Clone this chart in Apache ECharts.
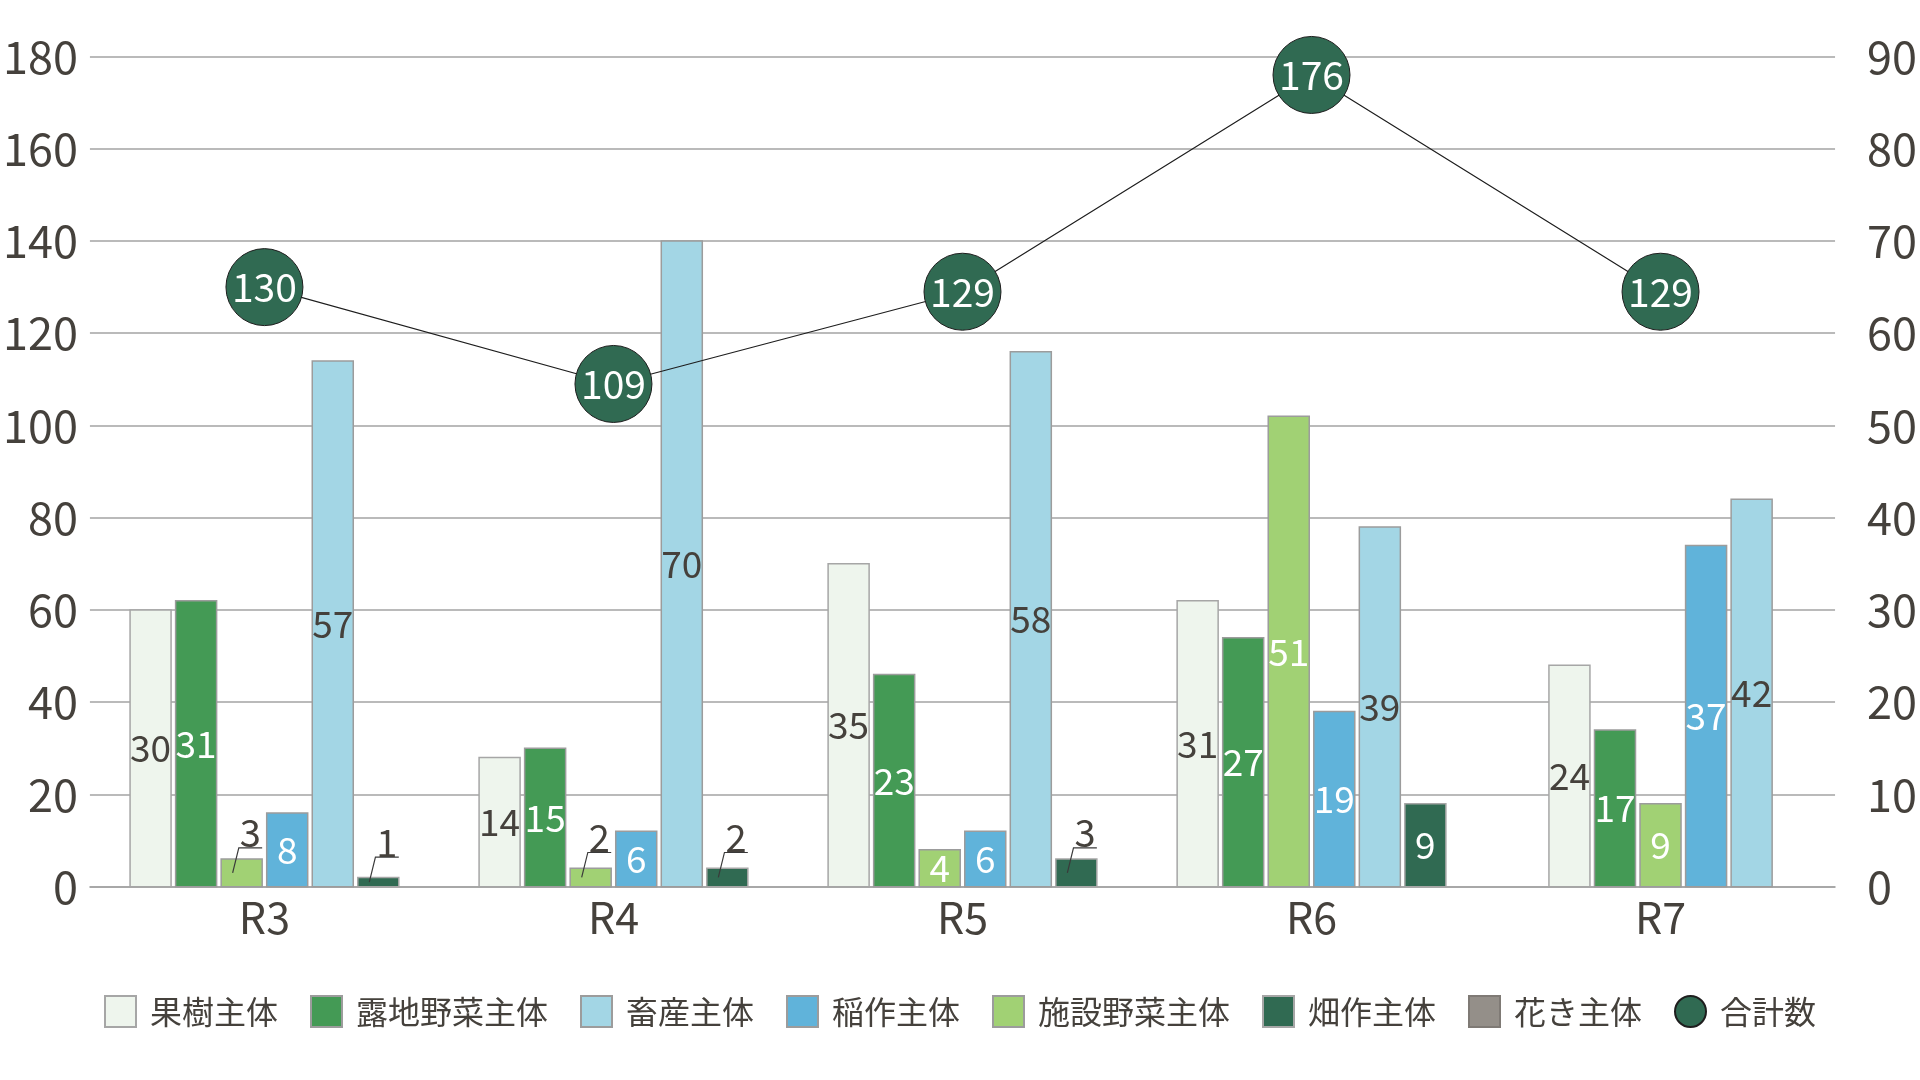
<!DOCTYPE html>
<html>
<head>
<meta charset="utf-8">
<style>
html,body{margin:0;padding:0;background:#ffffff;}
#chart{width:1920px;height:1080px;}
</style>
<script src="https://cdn.jsdelivr.net/npm/echarts@6/dist/echarts.min.js"></script>
</head>
<body>
<div id="chart"></div>
<script>
// ---- data ----
const categories = ['R3', 'R4', 'R5', 'R6', 'R7'];
const kaju = [30, 14, 35, 31, 24];        // 果樹主体
const roji = [31, 15, 23, 27, 17];        // 露地野菜主体
const shisetsu = [3, 2, 4, 51, 9];        // 施設野菜主体
const inasaku = [8, 6, 6, 19, 37];        // 稲作主体
const chikusan = [57, 70, 58, 39, 42];    // 畜産主体
const hatasaku = [1, 2, 3, 9, null];      // 畑作主体
const hanaki = [null, null, null, null, null]; // 花き主体
const total = [130, 109, 129, 176, 129];  // 合計数
const leftTicks = { min: 0, max: 180, interval: 20 };
const rightTicks = { min: 0, max: 90, interval: 10 };
const legendOrder = ['果樹主体', '露地野菜主体', '畜産主体', '稲作主体', '施設野菜主体', '畑作主体', '花き主体', '合計数'];

// ---- styles ----
const FONT = '"Noto Sans CJK JP", "Noto Sans", sans-serif';
const TEXT = '#45413c';
const GRID = '#a3a3a3';
const OUTSIDE_MAX = 3;

const barDefs = [
  { name: '果樹主体', data: kaju, color: '#eef5ed', border: '#a6a6a6', label: TEXT },
  { name: '露地野菜主体', data: roji, color: '#449a55', border: '#9c9c9c', label: '#ffffff' },
  { name: '施設野菜主体', data: shisetsu, color: '#a1d174', border: '#9c9c9c', label: '#ffffff' },
  { name: '稲作主体', data: inasaku, color: '#60b3da', border: '#9c9c9c', label: '#ffffff' },
  { name: '畜産主体', data: chikusan, color: '#a3d6e5', border: '#9c9c9c', label: TEXT },
  { name: '畑作主体', data: hatasaku, color: '#306a52', border: '#a6a6a6', label: '#ffffff' },
  { name: '花き主体', data: hanaki, color: '#948f89', border: '#7f7a75', label: '#ffffff' }
];

function makeBarSeries(def, si) {
  return {
    type: 'custom',
    name: def.name,
    yAxisIndex: 1,
    z: 2,
    itemStyle: { color: def.color, borderColor: def.border, borderWidth: 1.5 },
    encode: { x: 0, y: 1 },
    data: def.data.map((v, i) => [i, v]),
    renderItem: function (params, api) {
      const ci = api.value(0);
      const v = api.value(1);
      if (v == null || isNaN(v)) return null;
      const present = [];
      barDefs.forEach((d, j) => { if (d.data[ci] != null) present.push(j); });
      const n = present.length;
      const k = present.indexOf(si);
      const catW = api.size([1, 0])[0];
      const bw = catW * 0.1175;
      const pitch = catW * 0.1305;
      const base = api.coord([ci, 0]);
      const topY = api.coord([ci, v])[1];
      const cx = base[0] + (k - (n - 1) / 2) * pitch;
      const x0 = cx - bw / 2;
      const h = base[1] - topY;
      const midY = topY + h / 2;
      const children = [{
        type: 'rect',
        shape: { x: x0, y: topY, width: bw, height: h },
        style: { fill: def.color, stroke: def.border, lineWidth: 1.5 }
      }];
      if (v <= OUTSIDE_MAX) {
        const uy = midY - 25;
        children.push({
          type: 'polyline',
          shape: { points: [[x0 + bw * 0.28, midY], [x0 + bw * 0.43, uy], [x0 + bw, uy]] },
          style: { stroke: '#3a3a3a', lineWidth: 1.2, fill: null }
        });
        children.push({
          type: 'text',
          style: {
            text: String(v), x: x0 + bw * 0.71, y: uy - 15,
            align: 'center', verticalAlign: 'middle',
            fontSize: 38, fontFamily: FONT, fill: TEXT
          }
        });
      } else {
        children.push({
          type: 'text',
          style: {
            text: String(v), x: cx, y: midY,
            align: 'center', verticalAlign: 'middle',
            fontSize: 37, fontFamily: FONT, fill: def.label
          }
        });
      }
      return { type: 'group', children: children };
    }
  };
}

const series = barDefs.map(makeBarSeries);
series.push({
  type: 'line',
  name: '合計数',
  yAxisIndex: 0,
  z: 10,
  data: total,
  symbol: 'circle',
  symbolSize: 77,
  itemStyle: { color: '#306a52', borderColor: '#1e1e1e', borderWidth: 1 },
  lineStyle: { color: '#1e1e1e', width: 1.2 },
  label: {
    show: true, position: 'inside', formatter: '{c}',
    color: '#ffffff', fontSize: 39, fontFamily: FONT
  }
});

const chart = echarts.init(document.getElementById('chart'), null, { renderer: 'canvas' });
chart.setOption({
  animation: false,
  backgroundColor: '#ffffff',
  textStyle: { fontFamily: FONT },
  grid: { left: 84, right: 80, top: 56.5, bottom: 193.3, containLabel: false },
  legend: {
    show: true,
    bottom: null,
    top: 995,
    left: 'center',
    itemWidth: 31,
    itemHeight: 31,
    itemGap: 32,
    padding: 0,
    textStyle: { fontSize: 32, color: TEXT, fontFamily: FONT, padding: [0, 0, 0, 9] },
    data: legendOrder.map(n => ({ name: n, icon: n === '合計数' ? 'circle' : 'rect' }))
  },
  xAxis: {
    type: 'category',
    data: categories,
    boundaryGap: true,
    axisLine: { show: true, lineStyle: { color: GRID, width: 1.5 } },
    axisTick: { show: false },
    axisLabel: { fontSize: 43, color: TEXT, margin: 9, fontFamily: FONT },
    splitLine: { show: false }
  },
  yAxis: [
    {
      type: 'value', position: 'left',
      min: leftTicks.min, max: leftTicks.max, interval: leftTicks.interval,
      axisLine: { show: false }, axisTick: { show: false },
      axisLabel: { fontSize: 45, color: TEXT, margin: 12, fontFamily: FONT },
      splitLine: { show: true, lineStyle: { color: GRID, width: 1.5 } }
    },
    {
      type: 'value', position: 'right',
      min: rightTicks.min, max: rightTicks.max, interval: rightTicks.interval,
      axisLine: { show: false }, axisTick: { show: false },
      axisLabel: { fontSize: 45, color: TEXT, margin: 32, fontFamily: FONT },
      splitLine: { show: false }
    }
  ],
  series: series
});
</script>
</body>
</html>
